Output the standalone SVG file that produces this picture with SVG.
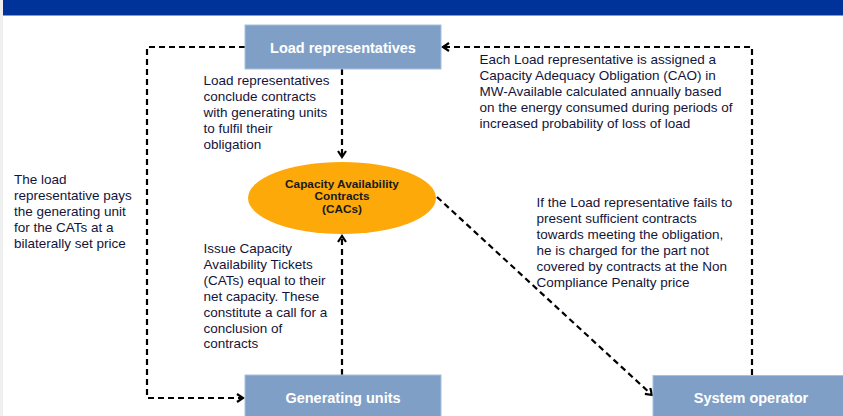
<svg xmlns="http://www.w3.org/2000/svg" width="843" height="416" viewBox="0 0 843 416">
  <style>
    .box { fill: #7F9FC7; stroke: #A9BFDC; stroke-width: 1; }
    .boxlabel { font-family: "Liberation Sans", Arial, sans-serif; font-size: 14.5px; font-weight: bold; fill: #FFFFFF; text-anchor: middle; }
    .note { font-family: "Liberation Sans", Arial, sans-serif; font-size: 13.5px; fill: #14143A; }
    .elabel { font-family: "Liberation Sans", Arial, sans-serif; font-size: 11.8px; font-weight: bold; fill: #1A1A1A; text-anchor: middle; }
    .conn { fill: none; stroke: #000000; stroke-width: 2.2; stroke-dasharray: 6 4; marker-end: url(#arrow); }
  </style>
  <defs>
    <marker id="arrow" markerUnits="userSpaceOnUse" markerWidth="12" markerHeight="12" refX="7" refY="5" orient="auto">
      <path d="M1,1 L7,5 L1,9" fill="none" stroke="#000000" stroke-width="2.2"/>
    </marker>
  </defs>

  <rect x="0" y="0" width="843" height="416" fill="#FFFFFF"/>
  <rect x="0" y="0" width="3" height="416" fill="#EFEFEF"/>
  <rect x="3" y="0" width="840" height="15" fill="#003399"/>
  <rect x="3" y="15" width="840" height="1" fill="#7F9BD6"/>

  <g id="connectors">
    <path class="conn" d="M245,47 H147 V398 H243"/>
    <path class="conn" d="M342,69 V157"/>
    <path class="conn" d="M342,375 V236"/>
    <path class="conn" d="M752,375 V47 H443"/>
    <path class="conn" d="M437,197 L652,395"/>
  </g>

  <g id="load-representatives">
    <rect class="box" x="245" y="25" width="196" height="44"/>
    <text class="boxlabel" x="343" y="53">Load representatives</text>
  </g>

  <g id="generating-units">
    <rect class="box" x="245" y="375" width="196" height="44"/>
    <text class="boxlabel" x="343" y="403">Generating units</text>
  </g>

  <g id="system-operator">
    <rect class="box" x="653" y="375.5" width="196" height="44"/>
    <text class="boxlabel" x="751" y="403">System operator</text>
  </g>

  <g id="cacs">
    <ellipse cx="342" cy="198" rx="94" ry="36" fill="#FDA90A"/>
    <text class="elabel" x="342" y="187.5">Capacity Availability</text>
    <text class="elabel" x="342" y="200">Contracts</text>
    <text class="elabel" x="342" y="212.5">(CACs)</text>
  </g>

  <g id="note-conclude">
    <text class="note" x="203.5" y="84.5">
      <tspan x="203.5" dy="0">Load representatives</tspan>
      <tspan x="203.5" dy="16">conclude contracts</tspan>
      <tspan x="203.5" dy="16">with generating units</tspan>
      <tspan x="203.5" dy="16">to fulfil their</tspan>
      <tspan x="203.5" dy="16">obligation</tspan>
    </text>
  </g>

  <g id="note-cao">
    <text class="note" x="479.5" y="64">
      <tspan x="479.5" dy="0">Each Load representative is assigned a</tspan>
      <tspan x="479.5" dy="16">Capacity Adequacy Obligation (CAO) in</tspan>
      <tspan x="479.5" dy="16">MW-Available calculated annually based</tspan>
      <tspan x="479.5" dy="16">on the energy consumed during periods of</tspan>
      <tspan x="479.5" dy="16">increased probability of loss of load</tspan>
    </text>
  </g>

  <g id="note-pays">
    <text class="note" x="14" y="183.5">
      <tspan x="14" dy="0">The load</tspan>
      <tspan x="14" dy="16.2">representative pays</tspan>
      <tspan x="14" dy="16.2">the generating unit</tspan>
      <tspan x="14" dy="16.2">for the CATs at a</tspan>
      <tspan x="14" dy="16.2">bilaterally set price</tspan>
    </text>
  </g>

  <g id="note-issue">
    <text class="note" x="203.5" y="253">
      <tspan x="203.5" dy="0">Issue Capacity</tspan>
      <tspan x="203.5" dy="15.9">Availability Tickets</tspan>
      <tspan x="203.5" dy="15.9">(CATs) equal to their</tspan>
      <tspan x="203.5" dy="15.9">net capacity. These</tspan>
      <tspan x="203.5" dy="15.9">constitute a call for a</tspan>
      <tspan x="203.5" dy="15.9">conclusion of</tspan>
      <tspan x="203.5" dy="15.9">contracts</tspan>
    </text>
  </g>

  <g id="note-penalty">
    <text class="note" x="536.5" y="207">
      <tspan x="536.5" dy="0">If the Load representative fails to</tspan>
      <tspan x="536.5" dy="16">present sufficient contracts</tspan>
      <tspan x="536.5" dy="16">towards meeting the obligation,</tspan>
      <tspan x="536.5" dy="16">he is charged for the part not</tspan>
      <tspan x="536.5" dy="16">covered by contracts at the Non</tspan>
      <tspan x="536.5" dy="16">Compliance Penalty price</tspan>
    </text>
  </g>
</svg>
